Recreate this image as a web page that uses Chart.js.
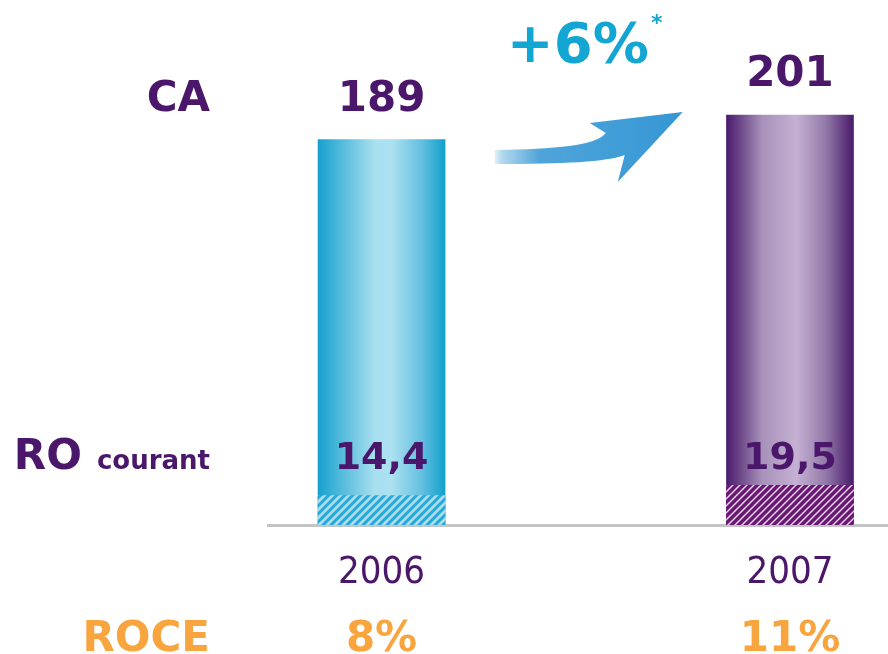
<!DOCTYPE html>
<html>
<head>
<meta charset="utf-8">
<script src="https://cdn.jsdelivr.net/npm/chart.js@4/dist/chart.umd.min.js"></script>
<style>
  html, body { margin: 0; padding: 0; background: #fff; overflow: hidden; }
</style>
</head>
<body>
<canvas id="chart" width="888" height="654"></canvas>
<script>
// data
const years = ['2006', '2007'];
const ca = [189, 201];          // chiffre d'affaires
const roCourant = [14.4, 19.5]; // résultat opérationnel courant
const roce = ['8%', '11%'];
const rowTitles = ['CA', 'RO', 'courant', 'ROCE'];
const growth = '+6%';

const PURPLE = '#4b176b';
const ORANGE = '#f8a53f';
const CYAN = '#13a6d3';

// gradients, one per bar
const barStops = [
  [[0, '#17a0cd'], [0.45, '#a9e0f0'], [0.58, '#ace1f0'], [0.82, '#62bfe0'], [1, '#11a0cc']],
  [[0, '#4a1a6b'], [0.28, '#a791ba'], [0.55, '#c5b1d3'], [0.78, '#937aa9'], [1, '#4a1a6b']]
];

function hatch(bg, fg, size, lw) {
  const p = document.createElement('canvas');
  p.width = p.height = size;
  const g = p.getContext('2d');
  g.fillStyle = bg;
  g.fillRect(0, 0, size, size);
  g.strokeStyle = fg;
  g.lineWidth = lw;
  g.beginPath();
  g.moveTo(0, size); g.lineTo(size, 0);
  g.moveTo(-size / 2, size / 2); g.lineTo(size / 2, -size / 2);
  g.moveTo(size / 2, size * 1.5); g.lineTo(size * 1.5, size / 2);
  g.stroke();
  return g.createPattern(p, 'repeat');
}
const hatches = [
  hatch('#a9def0', '#25a9d6', 8, 3),
  hatch('#6a1874', '#eddff2', 7, 1.4)
];

const BAR_W = 127;

function barGradient(context) {
  const chart = context.chart;
  if (!chart.chartArea) return barStops[context.dataIndex][0][1];
  const cx = chart.scales.x.getPixelForValue(context.dataIndex);
  const g = chart.ctx.createLinearGradient(cx - BAR_W / 2, 0, cx + BAR_W / 2, 0);
  barStops[context.dataIndex].forEach(s => g.addColorStop(s[0], s[1]));
  return g;
}

const labelsPlugin = {
  id: 'labels',
  afterDraw(chart) {
    const c = chart.ctx;
    const xs = chart.scales.x, ys = chart.scales.y;
    const zero = ys.getPixelForValue(0);
    c.save();
    c.textBaseline = 'alphabetic';

    // CA row
    c.fillStyle = PURPLE;
    c.font = 'bold 42px "DejaVu Sans"';
    c.textAlign = 'center';
    ca.forEach((v, i) => c.fillText(String(v), xs.getPixelForValue(i), ys.getPixelForValue(v) - 29));
    c.textAlign = 'right';
    c.fillText(rowTitles[0], 210, ys.getPixelForValue(ca[0]) - 29);

    // RO courant row
    const roY = zero - 56;
    c.textAlign = 'center';
    c.font = 'bold 38px "DejaVu Sans"';
    roCourant.forEach((v, i) => c.fillText(String(v).replace('.', ','), xs.getPixelForValue(i), roY));
    c.textAlign = 'right';
    c.font = 'bold 26px "DejaVu Sans"';
    c.fillText(rowTitles[2], 210, roY);
    const wc = c.measureText(rowTitles[2]).width;
    c.font = 'bold 42px "DejaVu Sans"';
    c.fillText(rowTitles[1], 210 - wc - 15, roY);

    // ROCE row
    const roceY = chart.height - 3;
    c.fillStyle = ORANGE;
    c.font = 'bold 42px "DejaVu Sans"';
    c.textAlign = 'right';
    c.fillText(rowTitles[3], 210, roceY);
    c.textAlign = 'center';
    roce.forEach((v, i) => c.fillText(v, xs.getPixelForValue(i), roceY));

    // growth arrow between the bars
    const mid = (xs.getPixelForValue(0) + xs.getPixelForValue(1)) / 2;
    const grd = c.createLinearGradient(mid - 95, 0, mid + 100, 0);
    grd.addColorStop(0, 'rgba(80,165,215,0)');
    grd.addColorStop(0.06, 'rgba(80,165,215,0.45)');
    grd.addColorStop(0.25, 'rgba(60,155,214,0.9)');
    grd.addColorStop(1, 'rgba(52,150,212,1)');
    c.fillStyle = grd;
    c.beginPath();
    c.moveTo(mid - 91, 150);
    c.bezierCurveTo(mid - 30, 149, mid + 10, 146, mid + 20, 133);
    c.lineTo(mid + 4, 123);
    c.lineTo(mid + 97, 112);
    c.lineTo(mid + 32, 182);
    c.lineTo(mid + 39, 155);
    c.bezierCurveTo(mid + 20, 162, mid - 20, 164, mid - 91, 164);
    c.closePath();
    c.fill();

    c.fillStyle = CYAN;
    c.font = 'bold 56px "DejaVu Sans"';
    c.textAlign = 'center';
    c.fillText(growth, mid - 8, 62);
    const gw = c.measureText(growth).width;
    c.font = 'bold 22px "DejaVu Sans"';
    c.fillText('*', mid - 8 + gw / 2 + 8, 30);
    c.restore();
  }
};

new Chart(document.getElementById('chart'), {
  type: 'bar',
  data: {
    datasets: [
      {
        label: 'CA',
        data: ca.map((v, i) => ({ x: i, y: v })),
        backgroundColor: barGradient,
        borderWidth: 0,
        barThickness: BAR_W,
        order: 1
      },
      {
        label: 'RO courant',
        data: roCourant.map((v, i) => ({ x: i, y: v })),
        backgroundColor: ctx => hatches[ctx.dataIndex],
        borderWidth: 0,
        barThickness: BAR_W,
        order: 0
      }
    ]
  },
  options: {
    responsive: false,
    animation: false,
    grouped: false,
    layout: { padding: { left: 268, right: 0, top: 56, bottom: 0 } },
    plugins: { legend: { display: false }, tooltip: { enabled: false } },
    scales: {
      x: {
        type: 'linear',
        offset: false,
        bounds: 'data',
        min: -0.278,
        max: 1.24,
        grid: { display: false, offset: false },
        border: { display: true, color: '#c4c4c4', width: 3 },
        afterBuildTicks: s => { s.ticks = years.map((y, i) => ({ value: i })); },
        afterFit: s => { s.height = 129; },
        ticks: {
          padding: 17,
          color: PURPLE,
          font: { family: '"DejaVu Sans Condensed", "DejaVu Sans"', size: 38 },
          callback: v => years[v]
        }
      },
      y: {
        display: false,
        min: 0,
        max: 230,
        bounds: 'data'
      }
    }
  },
  plugins: [labelsPlugin]
});
</script>
</body>
</html>
